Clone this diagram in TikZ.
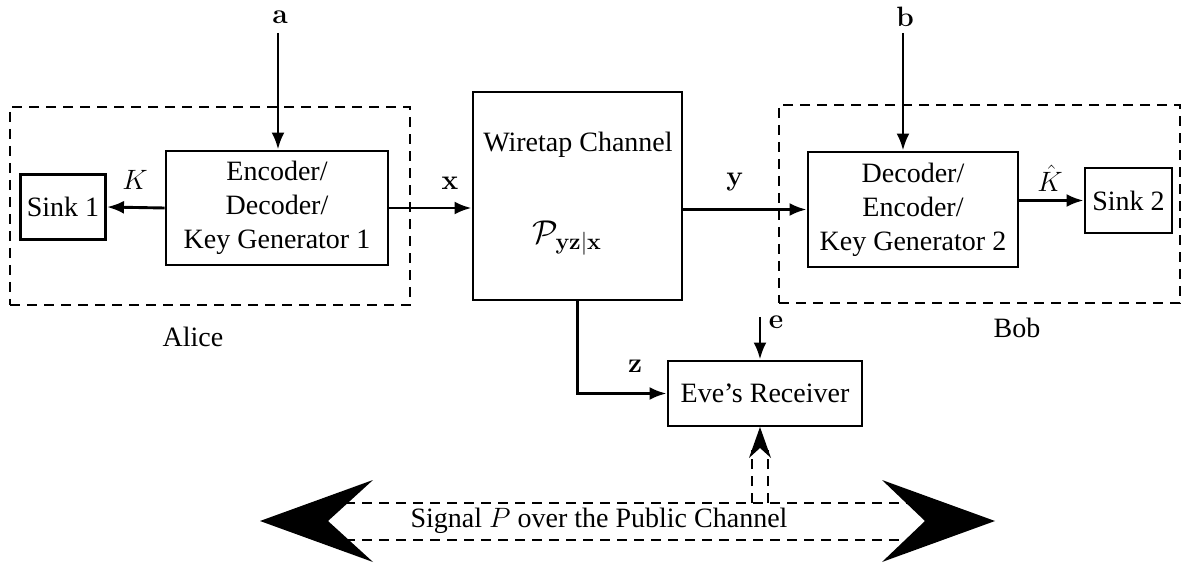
\documentclass[tikz,border=0pt]{standalone}
\usepackage{fix-cm}
\usepackage[no-math]{fontspec}
\setmainfont{Liberation Serif}
\usetikzlibrary{arrows.meta}
\begin{document}
\begin{tikzpicture}[x=1pt,y=-1pt,
  font=\fontsize{28}{34}\selectfont,
  box/.style={draw, line width=2.9pt, inner sep=0pt, align=center},
  party/.style={draw, line width=2.2pt, dash pattern=on 10pt off 7pt, inner sep=0pt},
  publine/.style={line width=2.4pt, dash pattern=on 10pt off 7pt},
  arr/.style={line width=2.9pt, -{Latex[length=17pt,width=13pt]}},
  lbl/.style={inner sep=0pt}]
\useasboundingbox (0,0) rectangle (1187,564);

% Alice's side
\node[party, minimum width=400, minimum height=198] (alice) at (210,206) {};
\node[box, minimum width=85, minimum height=65] (sink1) at (63,207) {Sink 1};
\node[box, minimum width=222, minimum height=114] (enc) at (277,208) {Encoder/\\Decoder/\\Key Generator 1};
\node[lbl] (alicename) at (193,337) {Alice};

% the channel
\node[box, minimum width=209, minimum height=208] (wt) at (577.5,196) {};
\node[lbl] (wtname) at (578,145) {Wiretap Channel};
\node[lbl, font=\fontsize{33}{38}\selectfont] (wtlaw) at (567,238) {$\mathcal{P}_{\mathbf{yz}|\mathbf{x}}$};

% Bob's side
\node[party, minimum width=401, minimum height=198] (bob) at (979.5,204) {};
\node[box, minimum width=210, minimum height=115] (dec) at (913,209.5) {Decoder/\\Encoder/\\Key Generator 2};
\node[box, minimum width=87, minimum height=65] (sink2) at (1128.5,200.5) {Sink 2};
\node[lbl] (bobname) at (1017,328) {Bob};

% the eavesdropper
\node[box, minimum width=194, minimum height=65] (eve) at (765,393.5) {Eve’s Receiver};

% inputs
\coordinate (ain) at (278,33);
\node[lbl] (alab) at (280,17) {$\mathbf{a}$};
\draw[arr] (ain) -- (ain |- enc.north);
\coordinate (bin) at (903,33);
\node[lbl] (blab) at (905,17) {$\mathbf{b}$};
\draw[arr] (bin) -- (bin |- dec.north);
\coordinate (ein) at (760,317);
\node[lbl] (elab) at (776,322) {$\mathbf{e}$};
\draw[arr] (ein) -- (ein |- eve.north);

% signal flow
\draw[arr] (enc.west) -- (sink1.east);
\node[lbl] (klab) at (135,180) {$K$};
\draw[arr] (enc.east) -- (enc.east -| wt.west);
\node[lbl] (xlab) at (450,183) {$\mathbf{x}$};
\draw[arr] (dec.west -| wt.east) -- (dec.west);
\node[lbl] (ylab) at (735,182) {$\mathbf{y}$};
\draw[arr] (dec.east |- sink2.west) -- (sink2.west);
\node[lbl] (khlab) at (1050,178) {$\hat{K}$};
\draw[arr] (wt.south) |- (eve.west);
\node[lbl] (zlab) at (635,366) {$\mathbf{z}$};

% public channel
\draw[publine] (345,503) -- (910,503);
\draw[publine] (345,540) -- (910,540);
\draw[publine] (752,503) -- (752,450);
\draw[publine] (768,503) -- (768,450);
\fill (760,427) -- (771,458) -- (760,448) -- (749,458) -- cycle;
\fill (260,521) -- (373,480) -- (328,521) -- (373,562) -- cycle;
\fill (995,521) -- (882,480) -- (925,521) -- (882,562) -- cycle;
\node[lbl] (pub) at (599,521) {Signal $P$ over the Public Channel};
\end{tikzpicture}
\end{document}
